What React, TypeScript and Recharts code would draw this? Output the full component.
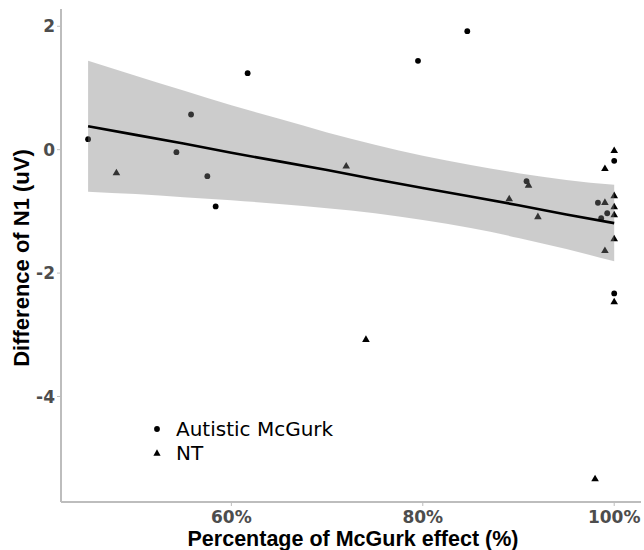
import React from "react";
import {
  ComposedChart,
  Scatter,
  Area,
  Line,
  XAxis,
  YAxis,
  Legend,
  Label,
} from "recharts";

// Autistic McGurk group (circles)
const autisticX = [45.03, 55.79, 54.26, 57.49, 58.36, 61.7, 79.5, 84.65, 90.84, 98.3, 99.27, 98.64, 100, 100];
const autisticY = [0.17, 0.57, -0.04, -0.43, -0.92, 1.24, 1.44, 1.92, -0.51, -0.86, -1.03, -1.11, -0.18, -2.33];

// NT group (triangles)
const ntX = [47.99, 72.0, 91.05, 89.03, 92.03, 99.03, 100, 99.03, 100, 100, 100, 100, 99.03, 100, 74.06, 98.0];
const ntY = [-0.38, -0.27, -0.58, -0.8, -1.09, -0.31, -0.02, -0.86, -0.75, -0.93, -1.06, -1.45, -1.64, -2.47, -3.08, -5.34];

// fitted line + confidence ribbon
const bandX = [45.03, 50, 55, 60, 65, 70, 75, 80, 85, 90, 95, 100];
const bandHigh = [1.44, 1.2, 0.96, 0.72, 0.5, 0.28, 0.08, -0.1, -0.25, -0.38, -0.49, -0.57];
const bandLow = [-0.68, -0.72, -0.77, -0.82, -0.88, -0.95, -1.03, -1.14, -1.27, -1.43, -1.61, -1.81];
const fitY = [0.38, 0.24, 0.1, -0.05, -0.19, -0.33, -0.48, -0.62, -0.76, -0.9, -1.05, -1.19];

const xTicks = [60, 80, 100];
const yTicks = [-4, -2, 0, 2];
const groupNames = ["Autistic McGurk", "NT"];

const autisticData = autisticX.map((x, i) => ({ x, y: autisticY[i] }));
const ntData = ntX.map((x, i) => ({ x, y: ntY[i] }));
const bandData = bandX.map((x, i) => ({ x, band: [bandLow[i], bandHigh[i]], fit: fitY[i] }));

const tickStyle = { fontFamily: "DejaVu Sans", fontSize: 17, fontWeight: 700, fill: "#4d4d4d" };
const titleFont = "Liberation Sans, Arial, sans-serif";

const Dot = (props: any) => <circle cx={props.cx} cy={props.cy} r={2.9} fill="#000" />;

const Tri = (props: any) => {
  const s = 7.6;
  const h = s * 0.866;
  const { cx, cy } = props;
  return (
    <path
      d={`M${cx},${cy - (2 * h) / 3}L${cx + s / 2},${cy + h / 3}L${cx - s / 2},${cy + h / 3}Z`}
      fill="#000"
    />
  );
};

const LegendBox = ({ payload }: any) => (
  <div style={{ fontFamily: "DejaVu Sans", fontSize: 20, lineHeight: "24px", color: "#000" }}>
    {(payload || [])
      .filter((e: any) => groupNames.includes(e.value))
      .map((e: any) => (
        <div key={e.value} style={{ display: "flex", alignItems: "center", height: 24 }}>
          <svg width={10} height={10} style={{ marginRight: 14 }}>
            {e.value === "NT" ? (
              <path d="M5,1.2L8.6,7.8L1.4,7.8Z" fill="#000" />
            ) : (
              <circle cx={5} cy={5} r={2.9} fill="#000" />
            )}
          </svg>
          <span>{e.value}</span>
        </div>
      ))}
  </div>
);

export default function App() {
  return (
    <div style={{ position: "fixed", top: 0, left: 0, width: 644, height: 550, background: "#fff" }}>
      <ComposedChart
        width={644}
        height={550}
        data={bandData}
        margin={{ top: 9, right: 3, bottom: 18, left: 0 }}
      >
        <XAxis
          type="number"
          dataKey="x"
          domain={[42.2, 102.8]}
          ticks={xTicks}
          allowDataOverflow
          height={30}
          tickFormatter={(v) => `${v}%`}
          tick={tickStyle}
          tickSize={4}
          tickMargin={5}
          axisLine={{ stroke: "#bdbdbd", strokeWidth: 2 }}
          tickLine={{ stroke: "#bdbdbd" }}
        >
          <Label
            content={({ viewBox }: any) => (
              <text
                x={viewBox.x + viewBox.width / 2 + 2}
                y={546}
                textAnchor="middle"
                fontFamily={titleFont}
                fontSize={21.5}
                fontWeight={700}
                fill="#000"
              >
                Percentage of McGurk effect (%)
              </text>
            )}
          />
        </XAxis>
        <YAxis
          type="number"
          domain={[-5.71, 2.28]}
          ticks={yTicks}
          allowDataOverflow
          width={61}
          tick={tickStyle}
          tickSize={4}
          tickMargin={2}
          axisLine={{ stroke: "#bdbdbd", strokeWidth: 2 }}
          tickLine={{ stroke: "#bdbdbd" }}
        >
          <Label
            content={() => (
              <text
                x={21.5}
                y={258}
                transform="rotate(-90 21.5 258)"
                textAnchor="middle"
                dominantBaseline="central"
                fontFamily={titleFont}
                fontSize={22}
                fontWeight={700}
                fill="#000"
              >
                Difference of N1 (uV)
              </text>
            )}
          />
        </YAxis>
        <Scatter
          name="Autistic McGurk"
          data={autisticData}
          dataKey="y"
          legendType="circle"
          shape={Dot}
          zIndex={300}
          isAnimationActive={false}
        />
        <Scatter
          name="NT"
          data={ntData}
          dataKey="y"
          legendType="triangle"
          shape={Tri}
          zIndex={300}
          isAnimationActive={false}
        />
        <Area
          dataKey="band"
          type="monotone"
          stroke="none"
          fill="#7f7f7f"
          fillOpacity={0.4}
          legendType="none"
          dot={false}
          activeDot={false}
          zIndex={700}
          isAnimationActive={false}
        />
        <Line
          dataKey="fit"
          type="linear"
          stroke="#000"
          strokeWidth={2.6}
          dot={false}
          activeDot={false}
          legendType="none"
          zIndex={800}
          isAnimationActive={false}
        />
        <Legend
          layout="vertical"
          align="center"
          verticalAlign="middle"
          wrapperStyle={{ left: 152, top: 417, width: 220 }}
          content={LegendBox}
        />
      </ComposedChart>
    </div>
  );
}
